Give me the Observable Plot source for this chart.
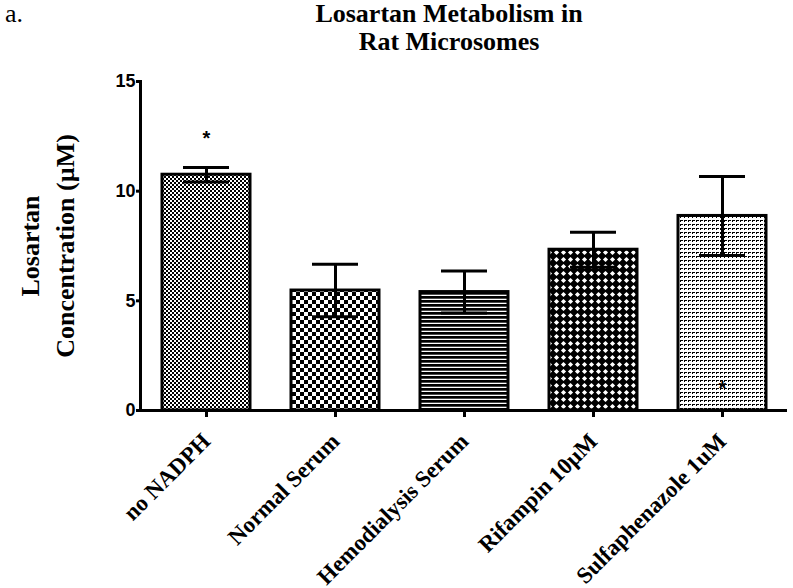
<!DOCTYPE html>
<html>
<head>
<meta charset="utf-8">
<script src="https://cdn.jsdelivr.net/npm/d3@7"></script>
<script src="https://cdn.jsdelivr.net/npm/@observablehq/plot@0.6"></script>
<style>
  html, body { margin: 0; padding: 0; background: #fff; }
  #page { position: relative; width: 793px; height: 588px; }
  #hdr { position: relative; width: 793px; height: 60px; font-family: "Liberation Serif", serif; color: #000; }
  #panel { position: absolute; left: 5px; top: 0px; font-size: 26px; line-height: 28px; }
  #title { position: absolute; left: 249px; width: 400px; top: 0px; text-align: center; font-size: 26px; line-height: 28px; font-weight: bold; }
  #chart svg { display: block; }
</style>
</head>
<body>
<div id="page">
  <div id="hdr">
    <div id="panel"></div>
    <div id="title"></div>
  </div>
  <div id="chart"></div>
</div>
<script>
// ---- data ----
const panelLabel = "a.";
const titleLines = ["Losartan Metabolism in", "Rat Microsomes"];
const yLabelLines = ["Losartan", "Concentration (µM)"];
const categories = ["no NADPH", "Normal Serum", "Hemodialysis Serum", "Rifampin 10µM", "Sulfaphenazole 1uM"];
const means = [10.75, 5.47, 5.40, 7.33, 8.87];
const errors = [0.33, 1.20, 0.96, 0.80, 1.80];
const starY = [12.4, null, null, null, 1.0];
const yTicks = [0, 5, 10, 15];

document.getElementById("panel").textContent = panelLabel;
document.getElementById("title").innerHTML = titleLines.map(t => `<div>${t}</div>`).join("");

const rows = categories.map((c, i) => ({cat: c, mean: means[i], err: errors[i], star: starY[i]}));

const serif = "Liberation Serif, Times New Roman, serif";
const sans = "Liberation Sans, Arial, sans-serif";

const barMarks = categories.map((c, i) =>
  Plot.barY(rows.filter(d => d.cat === c), {
    x: "cat", y: "mean", fill: `url(#pat${i})`, stroke: "black", strokeWidth: 3
  })
);

const chart = Plot.plot({
  width: 793,
  height: 528,
  marginTop: 21,
  marginBottom: 178,
  marginLeft: 140,
  marginRight: 6,
  style: {background: "white", color: "black", overflow: "visible"},
  x: {domain: categories, paddingInner: 0.32, paddingOuter: 0.16},
  y: {domain: [0, 15]},
  marks: [
    ...barMarks,
    Plot.ruleX(rows, {x: "cat", y1: d => d.mean - d.err, y2: d => d.mean + d.err, stroke: "black", strokeWidth: 3}),
    Plot.tickY(rows, {x: "cat", y: d => d.mean + d.err, stroke: "black", strokeWidth: 3, insetLeft: 21, insetRight: 21}),
    Plot.tickY(rows, {x: "cat", y: d => d.mean - d.err, stroke: "black", strokeWidth: 3, insetLeft: 21, insetRight: 21}),
    Plot.ruleY([0], {stroke: "black", strokeWidth: 3}),
    Plot.frame({anchor: "left", stroke: "black", strokeWidth: 3}),
    Plot.axisY({ticks: yTicks, tickSize: 4, tickPadding: 1, strokeWidth: 3, fontSize: 18, fontWeight: "bold", fontFamily: sans, label: null}),
    Plot.axisX({tickSize: 7, strokeWidth: 3, tickFormat: () => "", label: null}),
    Plot.text(rows, {x: "cat", text: "cat", frameAnchor: "bottom", dy: 27, rotate: -45, textAnchor: "end", lineAnchor: "middle",
      fontSize: 23, fontWeight: "bold", fontFamily: serif}),
    Plot.text(rows.filter(d => d.star != null), {x: "cat", y: "star", text: () => "*", fontSize: 20, fontWeight: "bold", fontFamily: sans}),
    Plot.text([yLabelLines.join("\n")], {text: d => d, frameAnchor: "left", rotate: -90, textAnchor: "middle", lineAnchor: "middle",
      lineHeight: 1.35, dx: -95.5, fontSize: 26, fontWeight: "bold", fontFamily: serif})
  ]
});

// fill patterns
const svg = d3.select(chart);
const defs = svg.insert("defs", ":first-child");
function pat(id, w, h) {
  const p = defs.append("pattern").attr("id", id).attr("patternUnits", "userSpaceOnUse").attr("width", w).attr("height", h);
  p.append("rect").attr("width", w).attr("height", h).attr("fill", "white");
  return p;
}
// fine checkerboard
let p = pat("pat0", 4, 4);
p.append("rect").attr("x", 0).attr("y", 0).attr("width", 2).attr("height", 2).attr("fill", "black");
p.append("rect").attr("x", 2).attr("y", 2).attr("width", 2).attr("height", 2).attr("fill", "black");
// coarse checkerboard
p = pat("pat1", 8, 8);
p.append("rect").attr("x", 0).attr("y", 0).attr("width", 4).attr("height", 4).attr("fill", "black");
p.append("rect").attr("x", 4).attr("y", 4).attr("width", 4).attr("height", 4).attr("fill", "black");
// horizontal lines
p = pat("pat2", 4, 4);
p.append("rect").attr("x", 0).attr("y", 0).attr("width", 4).attr("height", 2.7).attr("fill", "black");
// diamonds
p = pat("pat3", 7, 7);
p.append("rect").attr("width", 7).attr("height", 7).attr("fill", "black");
p.append("polygon").attr("points", "3.5,0.9 6.1,3.5 3.5,6.1 0.9,3.5").attr("fill", "white");
// light marks
p = pat("pat4", 4, 4);
p.append("rect").attr("x", 0).attr("y", 0).attr("width", 3).attr("height", 1).attr("fill", "black");
p.append("rect").attr("x", 0).attr("y", 0).attr("width", 1).attr("height", 2).attr("fill", "black");

document.getElementById("chart").appendChild(chart);
</script>
</body>
</html>
